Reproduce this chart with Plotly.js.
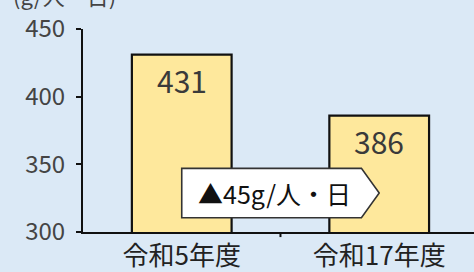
<!DOCTYPE html>
<html><head><meta charset="utf-8">
<script src="https://cdn.plot.ly/plotly-3.0.1.min.js"></script>
<style>html,body{margin:0;padding:0;background:#dbe9f6;}</style>
</head><body><div id="chart" style="width:474px;height:272px;"></div>
<script>
const categories = ["令和5年度", "令和17年度"];
const values = [431, 386];
const yTicks = [300, 350, 400, 450];
const unitLabel = "(g/人・日)";
const diffLabel = "▲45g/人・日";

const font = "'Noto Sans CJK JP', 'Noto Sans', sans-serif";
const bg = "#dbe9f6";
const yMin = 300, yMax = 450;

// arrow box spanning from first to second category
const boxTop = 347, boxBot = 310.5, boxMid = (boxTop + boxBot) / 2;
const arrowPath = `M 0,${boxTop} L 0.91,${boxTop} L 1,${boxMid} L 0.91,${boxBot} L 0,${boxBot} Z`;

const trace = {
  type: "bar",
  x: [0, 1],
  y: values,
  width: 0.505,
  marker: { color: "#fee89c", line: { color: "#111", width: 2.2 } },
  hoverinfo: "none"
};

const annotations = values.map((v, i) => ({
  x: i, y: v, xref: "x", yref: "y", text: String(v), showarrow: false,
  yanchor: "middle", yshift: -25,
  font: { family: font, size: 30, color: "#3a3a3a" }
}));
annotations.push({
  x: 0.47, y: boxMid, xref: "x", yref: "y", text: diffLabel, showarrow: false,
  font: { family: font, size: 25, color: "#111" }
});
annotations.push({
  x: 0, y: 1, xref: "paper", yref: "paper", xanchor: "left", yanchor: "bottom",
  xshift: -72, yshift: 16,
  text: unitLabel, showarrow: false,
  font: { family: font, size: 22, color: "#444" }
});

const layout = {
  width: 474, height: 272,
  margin: { l: 83, r: 0, t: 29, b: 40, pad: 0 },
  paper_bgcolor: bg, plot_bgcolor: bg,
  showlegend: false,
  xaxis: {
    range: [-0.5, 1.48],
    tickvals: [0, 1], ticktext: categories,
    showgrid: false, zeroline: false,
    showline: true, linecolor: "#111", linewidth: 2,
    ticks: "",
    tickfont: { family: font, size: 26, color: "#222" },
    ticklabelstandoff: 0,
    fixedrange: true
  },
  yaxis: {
    range: [yMin, yMax],
    tickvals: yTicks,
    showgrid: false, zeroline: false,
    showline: true, linecolor: "#111", linewidth: 2,
    ticks: "outside", ticklen: 5, tickwidth: 2, tickcolor: "#111",
    tickfont: { family: font, size: 24, color: "#444" },
    ticklabelstandoff: 6,
    fixedrange: true
  },
  shapes: [
    { type: "line", xref: "x", yref: "paper", x0: 0.5, x1: 0.5, y0: 0, y1: -0.025,
      line: { color: "#111", width: 2 } },
    { type: "path", xref: "x", yref: "y", path: arrowPath,
      fillcolor: "#ffffff", line: { color: "#333", width: 1.6 } }
  ],
  annotations: annotations
};

Plotly.newPlot("chart", [trace], layout, { displayModeBar: false, staticPlot: true });
</script></body></html>
